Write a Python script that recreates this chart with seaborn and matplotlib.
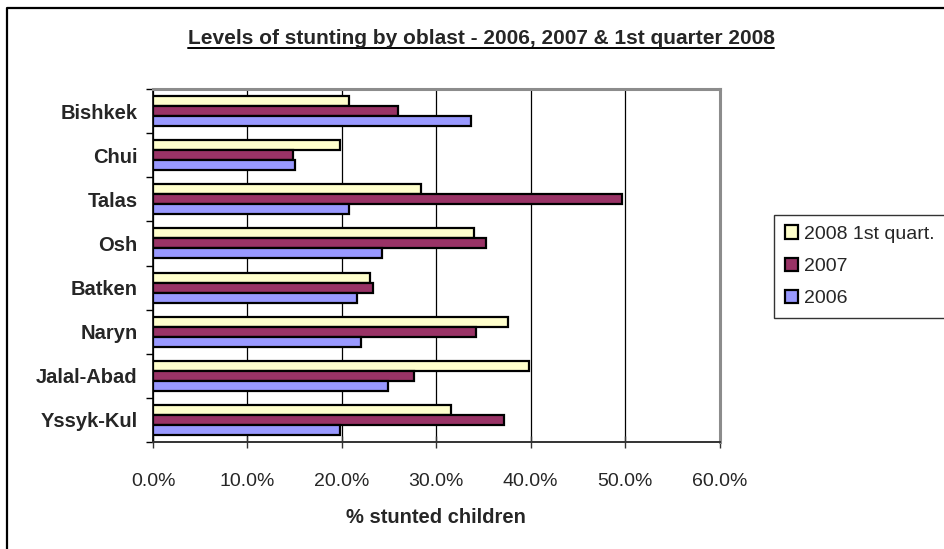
import matplotlib
matplotlib.use("Agg")
import matplotlib.pyplot as plt
from matplotlib.lines import Line2D
from matplotlib.ticker import FixedLocator, PercentFormatter
import numpy as np
import pandas as pd
import seaborn as sns

# Stunting levels (% of children) by oblast
oblasts = ["Bishkek", "Chui", "Talas", "Osh", "Batken", "Naryn", "Jalal-Abad", "Yssyk-Kul"]
series = ["2008 1st quart.", "2007", "2006"]
pct_2008q1 = [20.8, 19.8, 28.4, 34.0, 23.0, 37.6, 39.8, 31.6]
pct_2007 = [26.0, 14.8, 49.7, 35.3, 23.3, 34.2, 27.6, 37.2]
pct_2006 = [33.7, 15.0, 20.8, 24.3, 21.6, 22.0, 24.9, 19.8]
colors = ["#FFFFCC", "#993366", "#9999FF"]
xticks = [0, 10, 20, 30, 40, 50, 60]

df = pd.DataFrame({
    "oblast": oblasts * 3,
    "series": [series[0]] * 8 + [series[1]] * 8 + [series[2]] * 8,
    "value": pct_2008q1 + pct_2007 + pct_2006,
})

sns.set_theme(style="white")
plt.rcParams["font.family"] = ["Liberation Sans", "DejaVu Sans"]

fig = plt.figure(figsize=(9.44, 5.49), dpi=100)
ax = fig.add_axes([153 / 944, 1 - 442 / 549, (719.5 - 153) / 944, (442 - 89) / 549])

sns.barplot(data=df, x="value", y="oblast", hue="series", order=oblasts,
            hue_order=series, palette=colors, orient="h", width=0.68,
            edgecolor="black", linewidth=1.6, saturation=1, ax=ax, legend=True)

ax.set_xlim(0, 60)
ax.set_ylim(len(oblasts) - 0.5, -0.5)
ax.xaxis.set_major_locator(FixedLocator(xticks))
ax.xaxis.set_major_formatter(PercentFormatter(decimals=1))
ax.grid(axis="x", color="black", linewidth=0.9)
ax.set_axisbelow(True)

# category ticks sit on the boundaries between oblasts
ax.yaxis.set_minor_locator(FixedLocator(np.arange(-0.5, len(oblasts), 1.0)))
ax.tick_params(axis="y", which="major", length=0, pad=11, labelsize=14.5)
ax.tick_params(axis="y", which="minor", length=5, width=1, color="black", direction="out", left=True)
ax.tick_params(axis="x", which="major", length=8, width=1, color="#333333", direction="inout",
               bottom=True, pad=18, labelsize=14)
for lbl in ax.get_yticklabels():
    lbl.set_fontweight("bold")

for side in ("top", "right"):
    ax.spines[side].set_color("#8c8c8c")
    ax.spines[side].set_linewidth(2.2)
ax.spines["left"].set_color("black")
ax.spines["left"].set_linewidth(1.2)
ax.spines["bottom"].set_color("#333333")
ax.spines["bottom"].set_linewidth(1.4)

ax.set_ylabel("")
ax.set_xlabel("% stunted children", fontsize=14.5, fontweight="bold", labelpad=13)

fig.text(481 / 944, 1 - 38 / 549, "Levels of stunting by oblast - 2006, 2007 & 1st quarter 2008",
         ha="center", va="center", fontsize=15, fontweight="bold")
# underline under the title
fig.add_artist(Line2D([188 / 944, 774 / 944], [1 - 48 / 549, 1 - 48 / 549],
                      transform=fig.transFigure, color="black", linewidth=1.4))

# chart-area border (top and left edges)
fig.add_artist(Line2D([7 / 944, 7 / 944, 1.0], [0.0, 1 - 7.5 / 549, 1 - 7.5 / 549],
                      transform=fig.transFigure, color="black", linewidth=1.6))

leg = ax.legend(loc="upper left", bbox_to_anchor=(774 / 944, 1 - 214.7 / 549),
                bbox_transform=fig.transFigure, frameon=True, fancybox=False,
                fontsize=14, handlelength=0.7, handleheight=0.7, handletextpad=0.3,
                labelspacing=0.75, borderpad=0.55, borderaxespad=0)
leg.get_frame().set_edgecolor("black")
leg.get_frame().set_linewidth(1.0)
for h in leg.legend_handles:
    h.set_edgecolor("black")
    h.set_linewidth(1.6)

fig.savefig("out.png", dpi=100)
